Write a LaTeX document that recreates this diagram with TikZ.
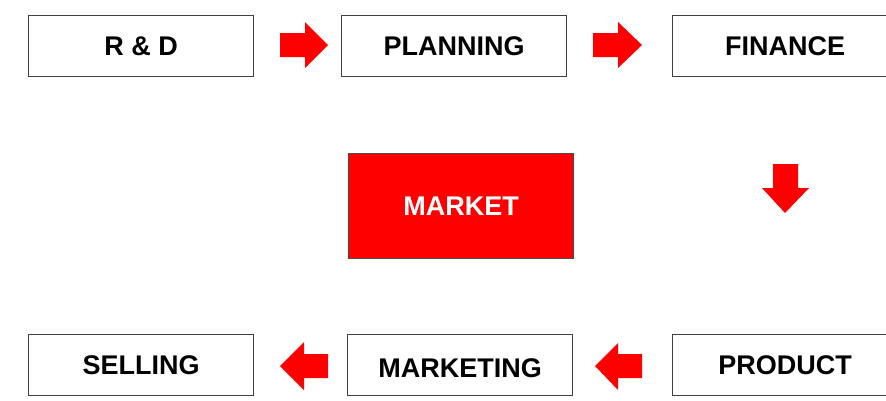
\documentclass[tikz,border=0pt]{standalone}
\usepackage{fontspec}
\setmainfont{Liberation Sans}
\begin{document}
\begin{tikzpicture}[x=1pt,y=-1pt,
  lbl/.style={font=\fontsize{27}{30}\selectfont\bfseries},
  box/.style={draw=black!75, line width=1.3pt, fill=white, minimum width=225pt, minimum height=61pt, inner sep=0pt, lbl, anchor=north west},
  redbox/.style={draw=black!70, line width=1.2pt, fill=red, text=white, minimum width=225pt, minimum height=105pt, inner sep=0pt, lbl, anchor=north west},
  redarrow/.style={fill=red, draw=none}]
\useasboundingbox (0,0) rectangle (886,400);
\fill[white] (0,0) rectangle (886,400);
\node[box] (rd) at (28,15) {R \& D};
\node[box] (plan) at (341,15) {PLANNING};
\node[box] (fin) at (672,15) {FINANCE};
\node[redbox] (market) at (348,153) {MARKET};
\node[box] (sell) at (28,334) {SELLING};
\node[box] (mkt) at (347,334) {};
\node[lbl] (mkttext) at ([yshift=-3pt]mkt.center) {MARKETING};
\node[box] (prod) at (672,334) {PRODUCT};
% right arrows
\fill[redarrow] (280,33) -- (305,33) -- (305,22) -- (328,45) -- (305,68) -- (305,57) -- (280,57) -- cycle;
\fill[redarrow] (593,33) -- (618,33) -- (618,22) -- (642,45) -- (618,68) -- (618,57) -- (593,57) -- cycle;
% down arrow
\fill[redarrow] (773,164) -- (798,164) -- (798,188) -- (809,188) -- (785,213) -- (762,188) -- (773,188) -- cycle;
% left arrows
\fill[redarrow] (328,354) -- (304,354) -- (304,342) -- (280,366) -- (304,390) -- (304,378) -- (328,378) -- cycle;
\fill[redarrow] (642,354) -- (618,354) -- (618,343) -- (595,366) -- (618,390) -- (618,378) -- (642,378) -- cycle;
\end{tikzpicture}
\end{document}
